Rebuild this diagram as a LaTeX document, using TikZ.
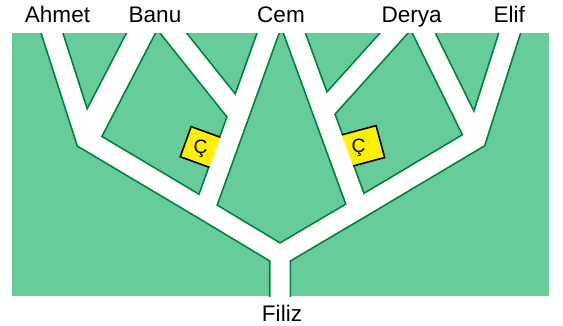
\documentclass[tikz,border=0pt]{standalone}
\usepackage{fontspec}
\setmainfont{Liberation Sans}

\definecolor{fieldgreen}{RGB}{102,204,153}
\definecolor{edgegreen}{RGB}{0,128,64}

\tikzset{
  roadedge/.style={draw=edgegreen, line width=16.8pt},
  roadfill/.style={draw=white, line width=14.25pt},
  wideedge/.style={draw=edgegreen, line width=20.55pt},
  widefill/.style={draw=white, line width=18pt},
  person/.style={font=\fontsize{16.9}{18}\selectfont, inner sep=0pt, anchor=base},
  cbox/.style={draw=black, fill=yellow, line width=1.2pt, inner sep=0pt},
  ctext/.style={font=\fontsize{14.5}{15}\selectfont, inner sep=0pt, anchor=base}
}

\begin{document}
\begin{tikzpicture}[x=0.75pt,y=0.75pt,yscale=-1,xscale=1]
\useasboundingbox (0,0) rectangle (563,325);

%Field
\fill[fieldgreen] (12,33) rectangle (549,296);

%Road ends at the top and bottom
\coordinate (tA) at (41.4,0);
\coordinate (tBl) at (158.1,0);
\coordinate (tBr) at (147,0);
\coordinate (tCl) at (280,0);
\coordinate (tCr) at (282.3,0);
\coordinate (tDl) at (423.8,0);
\coordinate (tDr) at (407.5,0);
\coordinate (tE) at (520.2,0);
\coordinate (tF) at (280,330);

%Junctions
\coordinate (jAB) at (86,139.1);
\coordinate (jBC) at (238.7,115);
\coordinate (jCD) at (323.1,111.8);
\coordinate (jDE) at (476,138.8);
\coordinate (jL) at (204.5,209.6);
\coordinate (jR) at (358.5,208.7);
\coordinate (jF) at (280,255);

\begin{scope}
\clip (12,33) rectangle (549,296);

%Road borders
\draw[roadedge] (tA) -- (jAB) -- (jL) -- (jF) -- (tF);
\draw[wideedge] (tBl) -- (jAB);
\draw[roadedge] (tBr) -- (jBC);
\draw[roadedge] (tCl) -- (jBC) -- (jL);
\draw[roadedge] (tCr) -- (jCD) -- (jR);
\draw[roadedge] (tDl) -- (jCD);
\draw[roadedge] (tDr) -- (jDE);
\draw[roadedge] (tE) -- (jDE) -- (jR) -- (jF);

%Boxes
\node[cbox, minimum width=25.5pt, minimum height=24pt, rotate=-20] (boxL) at (201.7,147.5) {};
\node[cbox, minimum width=28.5pt, minimum height=24.75pt, rotate=15] (boxR) at (362,146.5) {};

%Roads
\draw[roadfill] (tA) -- (jAB) -- (jL) -- (jF) -- (tF);
\draw[widefill] (tBl) -- (jAB);
\draw[roadfill] (tBr) -- (jBC);
\draw[roadfill] (tCl) -- (jBC) -- (jL);
\draw[roadfill] (tCr) -- (jCD) -- (jR);
\draw[roadfill] (tDl) -- (jCD);
\draw[roadfill] (tDr) -- (jDE);
\draw[roadfill] (tE) -- (jDE) -- (jR) -- (jF);
\end{scope}

% Text Node
\node[ctext] (cL) at (200.5,153.5) {Ç};
\node[ctext] (cR) at (358.5,152.8) {Ç};

% Names
\node[person] (ahmet) at (57.5,22.7) {Ahmet};
\node[person] (banu) at (155,22.7) {Banu};
\node[person] (cem) at (281,22.7) {Cem};
\node[person] (derya) at (411.7,22.7) {Derya};
\node[person] (elif) at (509.2,22.7) {Elif};
\node[person] (filiz) at (282,321.7) {Filiz};

\end{tikzpicture}
\end{document}
